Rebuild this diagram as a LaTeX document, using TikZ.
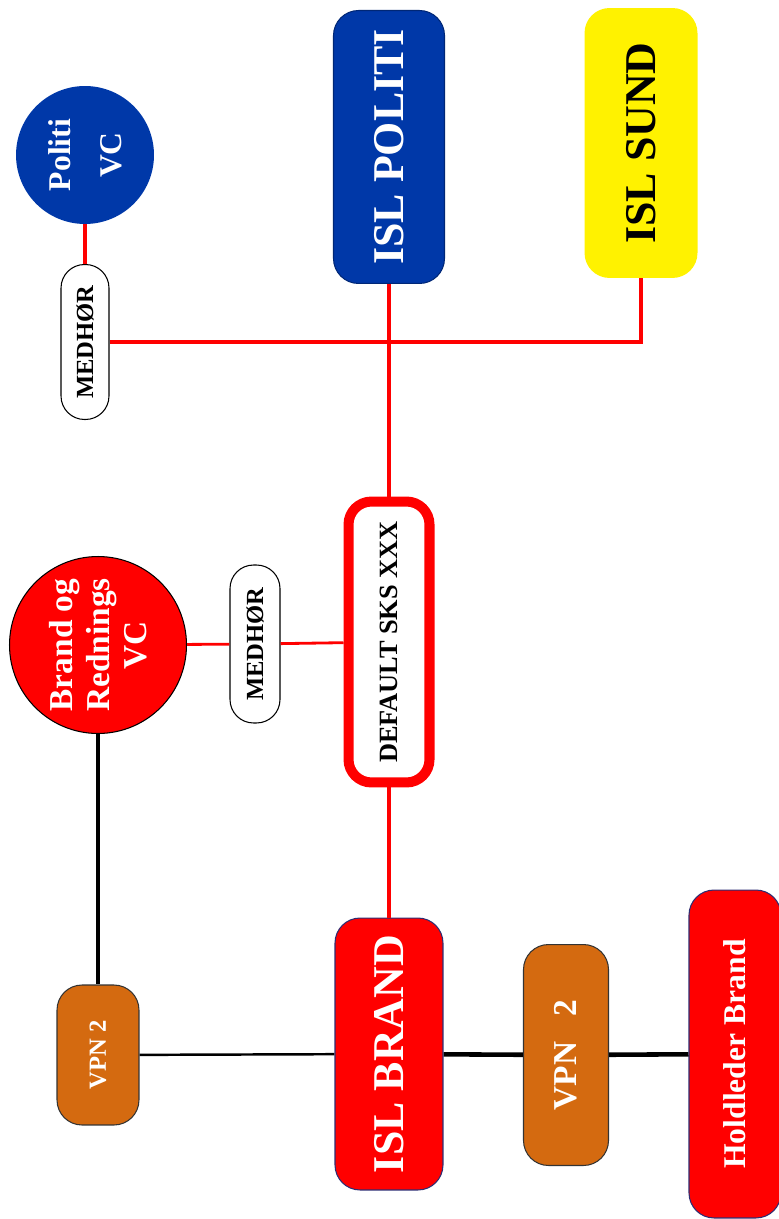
\documentclass[tikz,border=0pt]{standalone}
\usepackage{fontspec}
\setmainfont{Liberation Serif}
\usetikzlibrary{positioning}
\definecolor{politiblue}{RGB}{0,56,168}
\definecolor{vpnorange}{RGB}{212,106,16}
\definecolor{edgenavy}{RGB}{45,45,115}

\begin{document}
\begin{tikzpicture}[x=0.02cm, y=-0.02cm,
  box/.style={rotate=90, rounded corners=0.5cm, inner sep=0pt},
  islbox/.style={box, font=\bfseries\fontsize{25}{30}\selectfont},
  vpnbox/.style={box, fill=vpnorange, draw=black!80, line width=0.6pt, text=white},
  medbox/.style={box, rounded corners=0.47cm, fill=white, draw=black, line width=0.6pt,
    minimum width=3.1cm, minimum height=0.96cm, font=\bfseries\fontsize{14}{16}\selectfont},
  vccircle/.style={circle, inner sep=0pt, rotate=90, text=white, align=center},
  redline/.style={red, line width=2.3pt},
  thinred/.style={red, line width=1.6pt},
  blackline/.style={black, line width=2.6pt}
]
\useasboundingbox (0,0) rectangle (778,1219);

% top row
\node (politivc) [vccircle, fill=politiblue, minimum size=2.76cm,
  font=\bfseries\fontsize{18}{29}\selectfont] at (85,155) {Politi\\VC};
\node (medhor1) [medbox] at (85,342) {MEDHØR};
\node (islpoliti) [islbox, fill=politiblue, draw=politiblue!70!black, line width=0.6pt,
  text=white, minimum width=5.46cm, minimum height=2.22cm] at (389,147) {ISL POLITI};
\node (islsund) [islbox, fill=yellow, text=black,
  minimum width=5.4cm, minimum height=2.26cm] at (641,143) {ISL SUND};

% middle row
\node (brandvc) [vccircle, fill=red, draw=black, line width=0.6pt, minimum size=3.54cm,
  font=\bfseries\fontsize{19}{21}\selectfont] at (98,645) {Brand og\\Rednings\\VC};
\node (medhor2) [medbox, minimum width=3.16cm, minimum height=1cm] at (255,644) {MEDHØR};
\node (default) [box, rounded corners=0.46cm, fill=white, draw=red, line width=5.7pt,
  minimum width=5.62cm, minimum height=1.62cm,
  font=\bfseries\fontsize{15}{18}\selectfont] at (389,642) {DEFAULT SKS XXX};

% bottom row
\node (vpnl) [vpnbox, minimum width=2.8cm, minimum height=1.64cm,
  font=\bfseries\fontsize{14}{16}\selectfont] at (98,1055) {VPN 2};
\node (islbrand) [islbox, fill=red, draw=edgenavy, line width=0.6pt, text=white,
  minimum width=5.44cm, minimum height=2.16cm] at (389,1054) {ISL BRAND};
\node (vpnr) [vpnbox, minimum width=4.42cm, minimum height=1.7cm,
  font=\bfseries\fontsize{19}{22}\selectfont] at (566,1055) {VPN\hspace{0.5em} 2};
\node (holdleder) [box, fill=red, draw=edgenavy, line width=0.6pt, text=white,
  minimum width=6.56cm, minimum height=1.84cm,
  font=\bfseries\fontsize{18}{22}\selectfont] at (735,1054) {Holdleder Brand};

% connections
\draw[redline] (politivc) -- (medhor1);
\draw[redline] (medhor1) -| (islsund);
\draw[redline] (islpoliti) -- (default);
\draw[thinred] (brandvc) -- (medhor2);
\draw[thinred] (medhor2) -- (default);
\draw[redline] (default) -- (islbrand);
\draw[blackline] (brandvc) -- (vpnl);
\draw[black, line width=1.4pt] (vpnl) -- (islbrand);
\draw[blackline] (islbrand) -- (vpnr);
\draw[blackline] (vpnr) -- (holdleder);
\end{tikzpicture}
\end{document}
